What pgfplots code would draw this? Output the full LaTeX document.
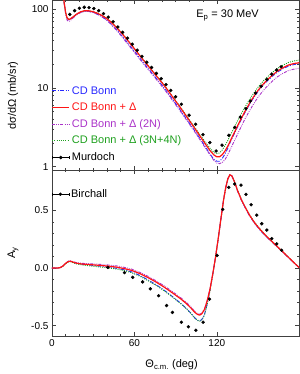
\documentclass[border=0pt]{standalone}
\usepackage{pgfplots}
\pgfplotsset{compat=1.18}
\usepackage{fontspec}
\setmainfont{Liberation Sans}
\usetikzlibrary{calc}
\definecolor{cdblue}{RGB}{40,40,255}
\definecolor{cdred}{RGB}{255,20,20}
\definecolor{cdpurple}{RGB}{170,50,200}
\definecolor{cdgreen}{RGB}{30,160,30}
\newcommand\labsz{\fontsize{11}{13}\selectfont}
\newcommand\ticksz{\fontsize{10}{12}\selectfont}
\pgfplotsset{
  common/.style={
    scale only axis, width=247.5pt, xmin=0, xmax=180,
    xtick={0,60,120}, minor x tick num=5,
    tick align=inside, major tick length=4pt, minor tick length=2pt,
    axis line style={black!75, line width=0.5pt},
    every tick/.style={black!75, line width=0.4pt},
    tick label style={font=\ticksz},
    legend cell align=left,
  },
  bl/.style={cdblue, line width=0.9pt, dash pattern=on 4pt off 1.5pt on 1pt off 1.5pt},
  rd/.style={cdred, line width=1.2pt},
  pu/.style={cdpurple, line width=0.9pt, dash pattern=on 3pt off 1.2pt on 0.8pt off 1.2pt on 0.8pt off 1.2pt},
  gr/.style={cdgreen, line width=0.9pt, dash pattern=on 1pt off 1.2pt},
  dat/.style={only marks, mark=*, mark size=1.5pt, black},
  datleg/.style={legend image code/.code={
     \draw[black, line width=0.5pt] (0pt,0pt) -- (17pt,0pt);
     \draw[black, line width=0.5pt] (0pt,-1.5pt) -- (0pt,1.5pt);
     \draw[black, line width=0.5pt] (17pt,-1.5pt) -- (17pt,1.5pt);
     \fill[black] (8.5pt,0pt) circle (1.5pt);}},
}
\begin{document}
\begin{tikzpicture}
\begin{axis}[common, name=top, height=170pt,
  ymode=log, ymin=0.9, ymax=130,
  ytick={1,10,100}, yticklabels={1,10,100}, xticklabels={},
  legend style={at={(0,0.27)}, anchor=west, xshift=-3.5pt, draw=none, fill=none, font=\labsz, row sep=3.3pt},
]
\addlegendimage{bl}\addlegendentry{\textcolor{cdblue}{CD Bonn}}
\addlegendimage{rd}\addlegendentry{\textcolor{cdred}{CD Bonn + Δ}}
\addlegendimage{pu}\addlegendentry{\textcolor{cdpurple}{CD Bonn + Δ (2N)}}
\addlegendimage{gr}\addlegendentry{\textcolor{cdgreen}{CD Bonn + Δ (3N+4N)}}
\addlegendimage{datleg}\addlegendentry{Murdoch}
% CD Bonn
\addplot[bl, forget plot] coordinates {(7,250)(8,160)(9,118)(10,90)(11,77.5)(12,73.8)(13,74.3)(15,78.5)(18,86.5)(21,92)(24,94.5)(27,93.8)(30,91.1)(33,86.7)(36,81.3)(39,75)(42,67.5)(45,60)(48,52.6)(51,45.6)(54,39.5)(57,33.9)(60,29.3)(63,25.1)(66,21.6)(69,18.6)(72,16.1)(76,13.2)(80,10.9)(84,8.84)(88,7.07)(92,5.67)(96,4.51)(100,3.58)(104,2.84)(108,2.23)(112,1.75)(115,1.44)(118,1.23)(120,1.17)(122,1.17)(124,1.27)(126,1.45)(128,1.71)(130,2.09)(132,2.47)(134,2.91)(136,3.44)(138,4.03)(140,4.7)(142,5.43)(144,6.26)(146,7.13)(148,8.05)(150,9.02)(153,10.5)(156,11.9)(160,13.9)(164,15.8)(168,17.5)(172,18.9)(176,19.8)(180,20.3)};
% 2N
\addplot[pu, forget plot] coordinates {(7,250)(8,158)(9,115)(10,86)(11,73)(12,70)(13,71)(15,76.5)(18,85)(21,91)(24,94)(27,93.5)(30,91)(33,86.5)(36,81)(39,74.5)(42,67)(45,59)(48,51.5)(51,44.6)(54,38.3)(57,32.9)(60,28.4)(63,24.3)(66,20.9)(69,18)(72,15.6)(76,12.8)(80,10.5)(84,8.55)(88,6.84)(92,5.49)(96,4.37)(100,3.47)(104,2.75)(108,2.16)(112,1.69)(115,1.41)(118,1.19)(120,1.11)(122,1.09)(124,1.13)(126,1.23)(128,1.42)(130,1.68)(132,1.99)(134,2.35)(136,2.79)(138,3.28)(140,3.88)(142,4.5)(144,5.2)(146,5.95)(148,6.75)(150,7.63)(153,8.9)(156,10.2)(160,12.0)(164,13.8)(168,15.3)(172,16.6)(176,17.3)(180,17.8)};
% 3N+4N
\addplot[gr, forget plot] coordinates {(7,250)(8,160)(9,118)(10,90)(11,78)(12,74.5)(13,75)(15,79)(18,87)(21,93)(24,96)(27,95.5)(30,93)(33,89.5)(36,84.7)(39,78.7)(42,71.7)(45,64.1)(48,56.6)(51,49.5)(54,42.9)(57,36.9)(60,31.8)(63,27.3)(66,23.4)(69,20.2)(72,17.5)(76,14.3)(80,11.8)(84,9.6)(88,7.7)(92,6.2)(96,4.95)(100,3.93)(104,3.15)(108,2.5)(112,2.01)(115,1.71)(118,1.51)(120,1.46)(122,1.49)(124,1.63)(126,1.86)(128,2.15)(130,2.54)(132,2.99)(134,3.5)(136,4.1)(138,4.75)(140,5.48)(142,6.3)(144,7.2)(146,8.15)(148,9.15)(150,10.2)(153,11.8)(156,13.4)(160,15.5)(164,17.6)(168,19.4)(172,21.0)(176,22.0)(180,22.6)};
% CD Bonn + Delta
\addplot[rd, forget plot] coordinates {(7,250)(8,160)(9,118)(10,90)(11,78)(12,74.5)(13,75)(15,79)(18,87)(21,93)(24,96)(27,95.5)(30,93)(33,89)(36,84)(39,78)(42,71)(45,63.5)(48,56)(51,49)(54,42.5)(57,36.5)(60,31.5)(63,27)(66,23.2)(69,20)(72,17.3)(76,14.2)(80,11.7)(84,9.5)(88,7.6)(92,6.1)(96,4.85)(100,3.85)(104,3.05)(108,2.4)(112,1.9)(115,1.6)(118,1.4)(120,1.33)(122,1.33)(124,1.42)(126,1.58)(128,1.82)(130,2.15)(132,2.55)(134,3.0)(136,3.55)(138,4.15)(140,4.85)(142,5.6)(144,6.45)(146,7.35)(148,8.3)(150,9.3)(153,10.8)(156,12.3)(160,14.3)(164,16.3)(168,18.0)(172,19.5)(176,20.4)(180,20.9)};
% Murdoch
\addplot[dat, forget plot] coordinates {(13,86)(16.5,96)(20,103)(23.5,106)(27,105)(30.5,102)(34,96)(37.5,88)(41,79.5)(44.5,69.5)(48,59.5)(51.5,51)(55,43)(58.5,36)(62,30.2)(65.5,25.2)(69,21.2)(72.5,18.2)(76,15.3)(79.5,13.1)(83,11)(86.5,9.3)(90,7.7)(94.2,6.2)(99.8,4.5)(104.6,3.45)(109.9,2.55)(114.9,2.02)(119.5,1.58)(123.8,1.87)(128.7,2.5)(133,3.15)(137.1,4.25)(141.2,5.45)(144.4,6.8)(148.2,8.6)(152.3,10.5)(156.4,12.8)(160,15.0)(163.6,16.9)(166.8,18.6)};
\node[font=\labsz] at (rel axis cs:0.71,0.912) {E\textsubscript{p} = 30 MeV};
\coordinate (ylt) at (rel axis cs:0,0.44);
\coordinate (tr) at (rel axis cs:1,1);
\end{axis}
\begin{axis}[common, name=bot, at={(top.south west)}, anchor=north west, height=166pt,
  ymin=-0.59, ymax=0.85, ytick={-0.5,0,0.5}, yticklabels={-0.5,0.0,0.5}, minor y tick num=4,
  xticklabels={0,60,120},
  legend style={at={(0,0.855)}, anchor=west, xshift=-3.5pt, draw=none, fill=none, font=\labsz},
]
\addlegendimage{datleg}\addlegendentry{Birchall}
\addplot[bl, forget plot] coordinates {(0,0)(4,0)(6,0.004)(8,0.018)(10,0.042)(12,0.057)(13.5,0.06)(15,0.053)(18,0.041)(22,0.033)(30,0.023)(40,0.01)(47,-0.002)(52,-0.014)(58,-0.033)(64,-0.064)(70,-0.103)(76,-0.146)(82,-0.195)(88,-0.25)(94,-0.308)(98,-0.352)(101,-0.39)(104,-0.433)(106,-0.453)(107.5,-0.458)(109,-0.448)(111,-0.405)(113,-0.31)(115,-0.195)(117,-0.058)(119,0.09)(121,0.255)(123,0.43)(125,0.6)(126.5,0.7)(128,0.775)(129.5,0.81)(131,0.8)(133,0.745)(135,0.672)(138,0.585)(141,0.515)(144,0.45)(148,0.38)(152,0.323)(156,0.272)(160,0.228)(165,0.172)(170,0.116)(175,0.059)(180,0.003)};
\addplot[gr, forget plot] coordinates {(0,0)(4,0)(6,0.003)(8,0.016)(10,0.038)(12,0.053)(13.5,0.055)(15,0.048)(18,0.036)(22,0.027)(30,0.016)(40,0.003)(47,-0.008)(52,-0.02)(58,-0.04)(64,-0.071)(70,-0.11)(76,-0.152)(82,-0.2)(88,-0.255)(94,-0.312)(98,-0.355)(101,-0.393)(104,-0.435)(106,-0.455)(107.5,-0.462)(109,-0.452)(111,-0.41)(113,-0.315)(115,-0.2)(117,-0.062)(119,0.085)(121,0.25)(123,0.425)(125,0.595)(126.5,0.695)(128,0.772)(129.5,0.808)(131,0.8)(133,0.748)(135,0.68)(138,0.595)(141,0.525)(144,0.46)(148,0.39)(152,0.332)(156,0.28)(160,0.235)(165,0.177)(170,0.12)(175,0.061)(180,0.003)};
\addplot[pu, forget plot] coordinates {(0,0)(4,0)(6,0.004)(8,0.019)(10,0.044)(12,0.06)(13.5,0.063)(15,0.057)(18,0.047)(22,0.041)(30,0.036)(40,0.028)(47,0.019)(52,0.008)(58,-0.009)(64,-0.037)(70,-0.072)(76,-0.112)(82,-0.157)(88,-0.207)(94,-0.26)(98,-0.3)(101,-0.336)(104,-0.377)(106,-0.396)(107.5,-0.401)(109,-0.392)(111,-0.355)(113,-0.28)(115,-0.182)(117,-0.053)(119,0.09)(121,0.255)(123,0.43)(125,0.598)(126.5,0.698)(128,0.773)(129.5,0.808)(131,0.798)(133,0.743)(135,0.673)(138,0.588)(141,0.518)(144,0.453)(148,0.383)(152,0.326)(156,0.275)(160,0.23)(165,0.173)(170,0.117)(175,0.059)(180,0.003)};
\addplot[rd, forget plot] coordinates {(0,0)(4,0)(6,0.004)(8,0.018)(10,0.042)(12,0.057)(13.5,0.06)(15,0.053)(18,0.042)(22,0.035)(30,0.028)(40,0.018)(47,0.008)(52,-0.003)(58,-0.02)(64,-0.048)(70,-0.083)(76,-0.123)(82,-0.168)(88,-0.218)(94,-0.27)(98,-0.31)(101,-0.345)(104,-0.385)(106,-0.403)(107.5,-0.408)(109,-0.398)(111,-0.36)(113,-0.285)(115,-0.185)(117,-0.055)(119,0.09)(121,0.255)(123,0.43)(125,0.6)(126.5,0.7)(128,0.775)(129.5,0.81)(131,0.8)(133,0.745)(135,0.675)(138,0.59)(141,0.52)(144,0.455)(148,0.385)(152,0.328)(156,0.277)(160,0.232)(165,0.175)(170,0.118)(175,0.06)(180,0.003)};
\addplot[dat, forget plot] coordinates {(40.7,0.006)(52.8,-0.04)(58.8,-0.08)(66,-0.12)(71.6,-0.18)(77.6,-0.24)(83.4,-0.325)(87.7,-0.385)(94.2,-0.47)(99.3,-0.51)(104.8,-0.54)(110,-0.47)(114.7,-0.27)(120.2,0.11)(124.3,0.51)(128.7,0.70)(133,0.73)(137.6,0.72)(141.2,0.64)(145,0.55)(149.1,0.46)(152.7,0.385)(156.4,0.33)(160,0.256)(163.6,0.21)(167.2,0.155)};
\coordinate (ylb) at (rel axis cs:0,0.5);
\coordinate (xl) at (rel axis cs:0.5,0);
\coordinate (bl) at (rel axis cs:0,0);
\end{axis}
\node[rotate=90, font=\labsz] at ($(ylt)+(-39pt,0)$) {dσ/dΩ (mb/sr)};
\node[rotate=90, font=\labsz] at ($(ylb)+(-39pt,0)$) {A\textsubscript{y}};
\node[font=\labsz] at ($(xl)+(-4pt,-29pt)$) {Θ\textsubscript{c.m.} (deg)};
\pgfresetboundingbox
\path ($(bl)+(-52pt,-38pt)$) rectangle ($(tr)+(0.4pt,0.3pt)$);
\end{tikzpicture}
\end{document}
